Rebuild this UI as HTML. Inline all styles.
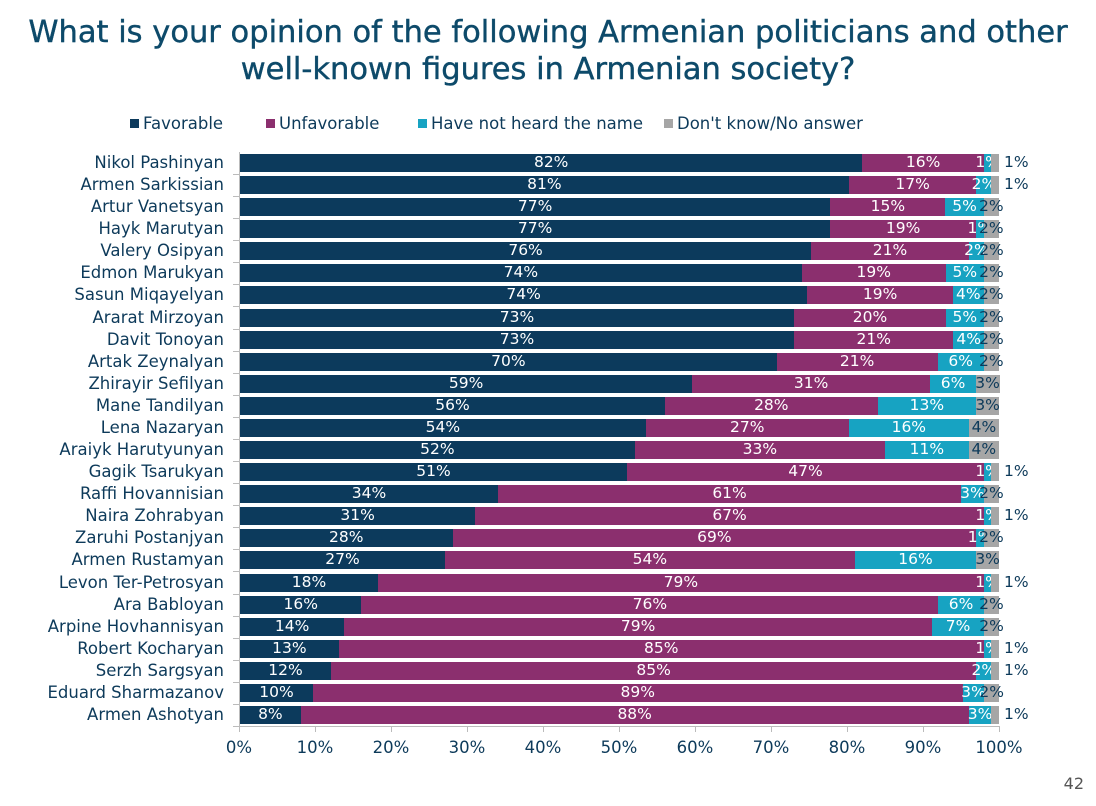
<!DOCTYPE html>
<html><head><meta charset="utf-8"><style>
body{margin:0;width:1096px;height:806px;background:#fff;font-family:"DejaVu Sans","Liberation Sans",sans-serif;color:#0d3a5a;position:relative;overflow:hidden}
.t{position:absolute;left:0;width:1096px;text-align:center;font-size:30.5px;line-height:37px;color:#0d4a6a;-webkit-text-stroke:0.4px #0d4a6a}
.a{position:absolute;white-space:nowrap}
</style></head><body>
<div class="t" style="top:14px">What is your opinion of the following Armenian politicians and other<br>well-known figures in Armenian society?</div>
<div id="c"></div>
<div class="a" style="right:12px;top:774px;font-size:16px;color:#555">42</div>
<script>
var d=[["Nikol Pashinyan",82,16,1,1],["Armen Sarkissian",81,17,2,1],["Artur Vanetsyan",77,15,5,2],["Hayk Marutyan",77,19,1,2],["Valery Osipyan",76,21,2,2],["Edmon Marukyan",74,19,5,2],["Sasun Miqayelyan",74,19,4,2],["Ararat Mirzoyan",73,20,5,2],["Davit Tonoyan",73,21,4,2],["Artak Zeynalyan",70,21,6,2],["Zhirayir Sefilyan",59,31,6,3],["Mane Tandilyan",56,28,13,3],["Lena Nazaryan",54,27,16,4],["Araiyk Harutyunyan",52,33,11,4],["Gagik Tsarukyan",51,47,1,1],["Raffi Hovannisian",34,61,3,2],["Naira Zohrabyan",31,67,1,1],["Zaruhi Postanjyan",28,69,1,2],["Armen Rustamyan",27,54,16,3],["Levon Ter-Petrosyan",18,79,1,1],["Ara Babloyan",16,76,6,2],["Arpine Hovhannisyan",14,79,7,2],["Robert Kocharyan",13,85,1,1],["Serzh Sargsyan",12,85,2,1],["Eduard Sharmazanov",10,89,3,2],["Armen Ashotyan",8,88,3,1]];
var col=["#0c3a5c","#8b2f6e","#17a3c2","#a6a6a6"];
var h="",X0=240,W=759;
var lg=[["Favorable",130],["Unfavorable",266],["Have not heard the name",418],["Don't know/No answer",664]];
lg.forEach(function(l,i){h+='<div class="a" style="left:'+l[1]+'px;top:119px;width:9px;height:9px;background:'+col[i]+'"></div><div class="a" style="left:'+(l[1]+13)+'px;top:114px;font-size:16.5px">'+l[0]+'</div>';});
h+='<div class="a" style="left:239px;top:152px;width:1px;height:575px;background:#bbb"></div>';
h+='<div class="a" style="left:239px;top:726px;width:761px;height:1px;background:#bbb"></div>';
for(var k=0;k<=10;k++){var x=239+k*76;h+='<div class="a" style="left:'+x+'px;top:726px;width:1px;height:6px;background:#bbb"></div><div class="a" style="left:'+(x-30)+'px;width:60px;text-align:center;top:738px;font-size:16.5px">'+(k*10)+'%</div>';}
d.forEach(function(r,i){
 var cy=163+i*22.08,s=r[1]+r[2]+r[3]+r[4],x=X0;
 h+='<div class="a" style="left:233px;top:'+(cy+11)+'px;width:6px;height:1px;background:#bbb"></div>';
 h+='<div class="a" style="right:872px;top:'+(cy-10)+'px;font-size:16.5px">'+r[0]+'</div>';
 for(var j=0;j<4;j++){var w=r[j+1]/s*W;
  h+='<div class="a" style="left:'+x+'px;top:'+(cy-9)+'px;width:'+(w+0.5)+'px;height:18px;background:'+col[j]+'"></div>';
  var cx=x+w/2,lab=r[j+1]+'%';
  if(j<3){h+='<div class="a" style="left:'+(cx-30)+'px;width:60px;text-align:center;top:'+(cy-10)+'px;font-size:15.5px;color:#fff">'+lab+'</div>';}
  else if(r[4]>=2){h+='<div class="a" style="left:'+(cx-30)+'px;width:60px;text-align:center;top:'+(cy-10)+'px;font-size:15.5px;color:#0d3a5a">'+lab+'</div>';}
  else{h+='<div class="a" style="left:1004px;top:'+(cy-10)+'px;font-size:15.5px">'+lab+'</div>';}
  x+=w;}
});
document.getElementById("c").innerHTML=h;
</script>
</body></html>
